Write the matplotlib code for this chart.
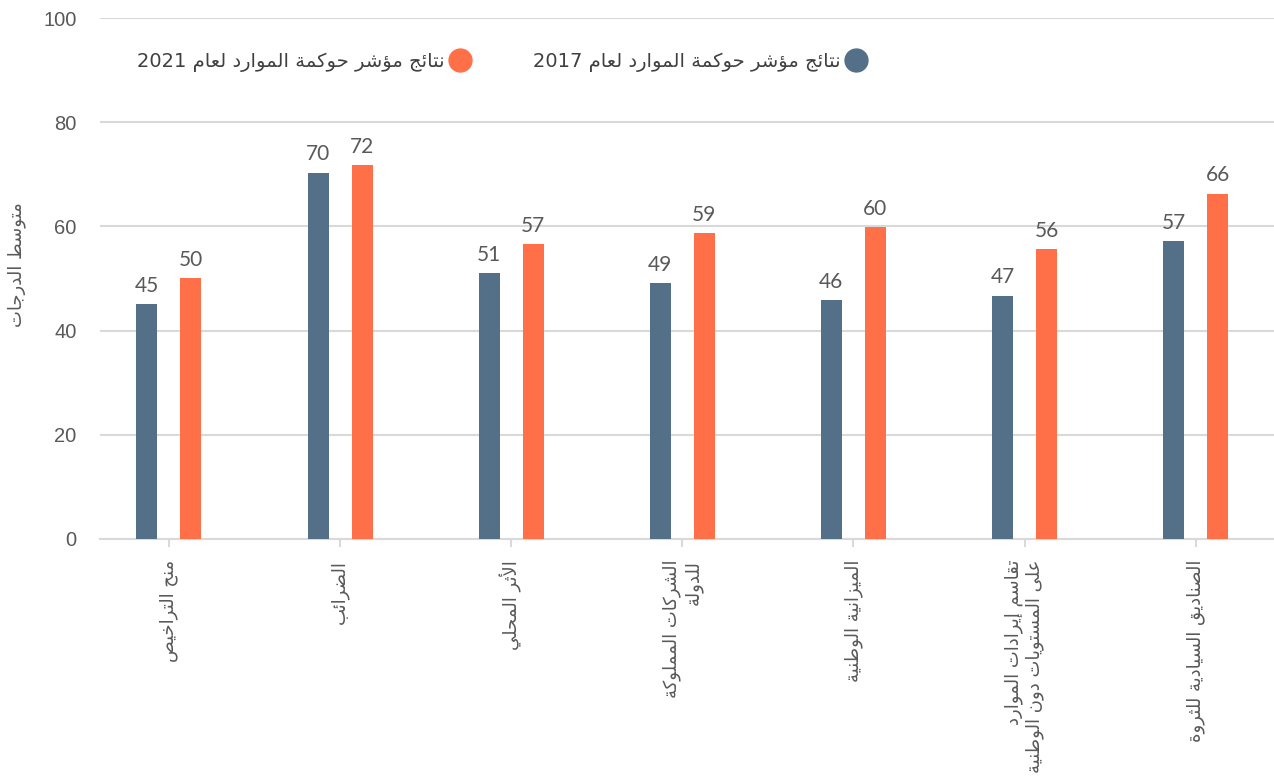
import re
import matplotlib
matplotlib.use("Agg")
import matplotlib.pyplot as plt
from matplotlib.lines import Line2D

# data
categories = [
    "منح التراخيص",
    "الضرائب",
    "الأثر المحلي",
    "الشركات المملوكة\nللدولة",
    "الميزانية الوطنية",
    "تقاسم إيرادات الموارد\nعلى المستويات دون الوطنية",
    "الصناديق السيادية للثروة",
]
scores_2017 = [45.1, 70.3, 51.0, 49.1, 45.9, 46.7, 57.2]
scores_2021 = [50.1, 71.7, 56.6, 58.7, 59.9, 55.6, 66.3]
label_2017 = "نتائج مؤشر حوكمة الموارد لعام 2017"
label_2021 = "نتائج مؤشر حوكمة الموارد لعام 2021"
y_title = "متوسط الدرجات"
y_ticks = [0, 20, 40, 60, 80, 100]

BLUE = "#546f88"
ORANGE = "#ff7049"
GREY_TXT = "#595959"
GRID = "#d9d9d9"

# matplotlib 3.10 does not shape arabic, so pick presentation forms by hand
counts = {0x621: 1, 0x622: 2, 0x623: 2, 0x624: 2, 0x625: 2, 0x626: 4, 0x627: 2, 0x628: 4, 0x629: 2}
for c in range(0x62A, 0x62F):
    counts[c] = 4
for c in range(0x62F, 0x633):
    counts[c] = 2
for c in range(0x633, 0x63B):
    counts[c] = 4
for c in range(0x641, 0x648):
    counts[c] = 4
counts[0x648] = 2
counts[0x649] = 2
counts[0x64A] = 4
FORMS = {}
base = 0xFE80
for c in sorted(counts):
    FORMS[chr(c)] = [chr(base + k) for k in range(counts[c])]
    base += counts[c]
LAMALEF = {"آ": ("\uFEF5", "\uFEF6"), "أ": ("\uFEF7", "\uFEF8"),
           "إ": ("\uFEF9", "\uFEFA"), "ا": ("\uFEFB", "\uFEFC")}


def dual(ch):
    return ch in FORMS and len(FORMS[ch]) == 4


def joins(ch):
    return ch in FORMS and len(FORMS[ch]) >= 2


def shape_line(text):
    res = []
    i = 0
    n = len(text)
    while i < n:
        ch = text[i]
        if ch not in FORMS:
            res.append(ch)
            i += 1
            continue
        prev = text[i - 1] if i > 0 else ""
        link_prev = dual(prev) and joins(ch)
        nxt = text[i + 1] if i + 1 < n else ""
        if ch == "ل" and nxt in LAMALEF:
            res.append(LAMALEF[nxt][1 if link_prev else 0])
            i += 2
            continue
        link_next = dual(ch) and joins(nxt)
        f = FORMS[ch]
        if link_prev and link_next:
            res.append(f[3])
        elif link_prev:
            res.append(f[1])
        elif link_next:
            res.append(f[2])
        else:
            res.append(f[0])
        i += 1
    s = "".join(res[::-1])
    return re.sub(r"[0-9]+", lambda m: m.group(0)[::-1], s)


def ar(text):
    return "\n".join(shape_line(t) for t in text.split("\n"))


plt.rcParams["font.family"] = ["DejaVu Sans"]

fig = plt.figure(figsize=(12.74, 7.80), dpi=100)
ax = fig.add_axes([100 / 1274, 241 / 780, 1174 / 1274, 521 / 780])

x = list(range(len(categories)))
w = 0.123
off = 0.1286
b1 = ax.bar([i - off for i in x], scores_2017, width=w, color=BLUE, zorder=3)
b2 = ax.bar([i + off for i in x], scores_2021, width=w, color=ORANGE, zorder=3)
for bars in (b1, b2):
    ax.bar_label(bars, fmt="%.0f", padding=6, fontsize=15, color=GREY_TXT,
                 family="Lato")

ax.set_xlim(-0.403, 6.458)
ax.set_ylim(0, 100)
ax.set_yticks(y_ticks)
ax.set_yticklabels([str(t) for t in y_ticks], family="Liberation Sans",
                   fontsize=14.5, color=GREY_TXT)
ax.tick_params(axis="y", length=0, pad=17)
ax.yaxis.grid(True, color=GRID, linewidth=1.5, zorder=0)
ax.set_axisbelow(True)

ax.set_xticks(x)
ax.set_xticklabels([ar(c) for c in categories], rotation=90, ha="center",
                   va="top", multialignment="right", fontsize=13,
                   color=GREY_TXT)
ax.tick_params(axis="x", length=6, width=1.5, color=GRID, pad=9)

for s in ["top", "right", "left"]:
    ax.spines[s].set_visible(False)
ax.spines["bottom"].set_color(GRID)
ax.spines["bottom"].set_linewidth(1.5)

fig.text(17 / 1274, 1 - 265 / 780, ar(y_title), rotation=90, ha="center",
         va="center", fontsize=13, color=GREY_TXT)

handles = [
    Line2D([], [], marker="o", linestyle="none", markersize=16.5,
           markerfacecolor=ORANGE, markeredgecolor=ORANGE),
    Line2D([], [], marker="o", linestyle="none", markersize=16.5,
           markerfacecolor=BLUE, markeredgecolor=BLUE),
]
leg = ax.legend(handles, [ar(label_2021), ar(label_2017)], ncol=2,
                markerfirst=False, frameon=False, loc="center left",
                bbox_to_anchor=(0.0315, 0.9155), borderpad=0,
                borderaxespad=0, handlelength=1.3, handletextpad=0.15,
                columnspacing=3.1, prop={"size": 14})
for t in leg.get_texts():
    t.set_color("#404040")

fig.savefig("out.png", dpi=100)
